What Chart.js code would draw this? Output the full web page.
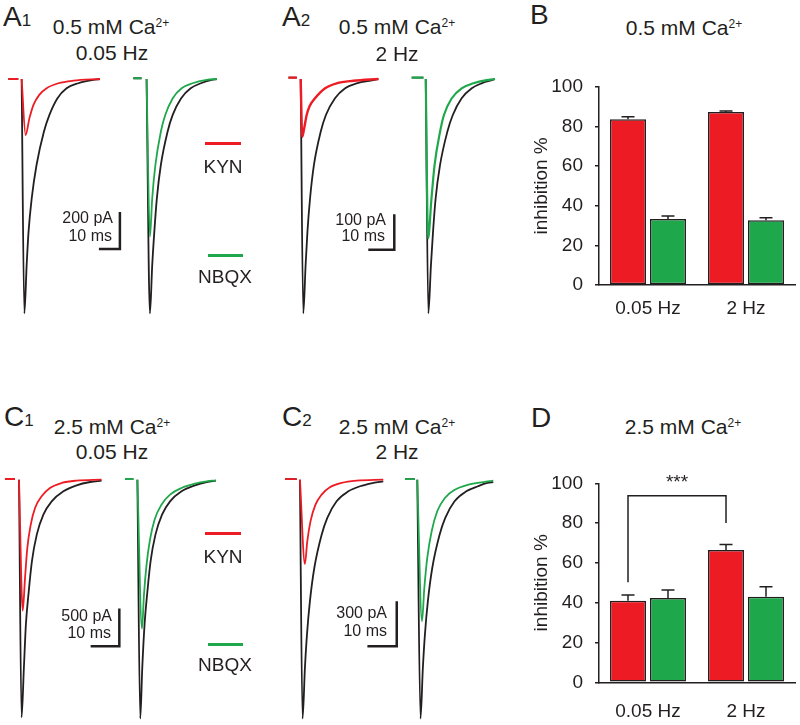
<!DOCTYPE html>
<html lang="en">
<head>
<meta charset="UTF-8">
<title>KYN / NBQX inhibition</title>
<script src="https://cdn.jsdelivr.net/npm/chart.js@4.4.1/dist/chart.umd.min.js"></script>
<style>
    *{ margin:0; padding:0; }
    body{
        width:800px; height:725px; position:relative; overflow:hidden;
        background:#fff; color:#231f20;
        font-family:"Liberation Sans", Arial, sans-serif;
    }
    canvas{ position:absolute; }
    .t{ position:absolute; transform:translate(-50%,-50%); white-space:nowrap; line-height:1.15; }
    .r{ transform:translate(-100%,-50%); }
    .l{ transform:translate(0,-50%); }
    .ttl{ font-size:21px; }
    .sb{ font-size:16px; }
    .lg{ font-size:19px; }
    .pl{ font-size:28px; }
    .pl small{ font-size:17px; }
    sup{ font-size:12px; position:relative; top:-0.55em; vertical-align:baseline; line-height:0; }
    .key{ position:absolute; height:3px; }
</style>
</head>
<body>
<canvas id="a1" width="240" height="255" style="left:0;top:65px"></canvas>
<canvas id="a2" width="240" height="255" style="left:270px;top:65px"></canvas>
<canvas id="c1" width="240" height="257" style="left:0;top:468px"></canvas>
<canvas id="c2" width="240" height="257" style="left:270px;top:468px"></canvas>
<canvas id="b" width="270" height="270" style="left:530px;top:60px"></canvas>
<canvas id="d" width="270" height="270" style="left:530px;top:455px"></canvas>

<div class="t l pl" style="left:3px;top:16.5px">A<small>1</small></div>
<div class="t l pl" style="left:282px;top:16.5px">A<small>2</small></div>
<div class="t l pl" style="left:530px;top:15px">B</div>
<div class="t l pl" style="left:4px;top:417px">C<small>1</small></div>
<div class="t l pl" style="left:282px;top:417px">C<small>2</small></div>
<div class="t l pl" style="left:531px;top:418px">D</div>

<div class="t ttl" style="left:111px;top:27px">0.5 mM Ca<sup>2+</sup></div>
<div class="t ttl" style="left:112px;top:53px">0.05 Hz</div>
<div class="t ttl" style="left:397px;top:27px">0.5 mM Ca<sup>2+</sup></div>
<div class="t ttl" style="left:397px;top:54px">2 Hz</div>
<div class="t ttl" style="left:684px;top:28px">0.5 mM Ca<sup>2+</sup></div>
<div class="t ttl" style="left:112px;top:427px">2.5 mM Ca<sup>2+</sup></div>
<div class="t ttl" style="left:112px;top:452px">0.05 Hz</div>
<div class="t ttl" style="left:397px;top:427px">2.5 mM Ca<sup>2+</sup></div>
<div class="t ttl" style="left:397px;top:452px">2 Hz</div>
<div class="t ttl" style="left:683px;top:427px">2.5 mM Ca<sup>2+</sup></div>

<div class="t r sb" style="left:113px;top:218px">200 pA</div>
<div class="t r sb" style="left:112px;top:236px">10 ms</div>
<div class="t r sb" style="left:386px;top:220px">100 pA</div>
<div class="t r sb" style="left:385px;top:236px">10 ms</div>
<div class="t r sb" style="left:112px;top:616px">500 pA</div>
<div class="t r sb" style="left:111px;top:633px">10 ms</div>
<div class="t r sb" style="left:387px;top:613px">300 pA</div>
<div class="t r sb" style="left:387px;top:631px">10 ms</div>

<div class="key" style="left:205px;top:141.5px;width:36px;background:#ed1c24"></div>
<div class="t lg" style="left:223px;top:167px">KYN</div>
<div class="key" style="left:208px;top:253.5px;width:35px;background:#1fa84b"></div>
<div class="t lg" style="left:225px;top:277px">NBQX</div>
<div class="key" style="left:205px;top:531.5px;width:36px;background:#ed1c24"></div>
<div class="t lg" style="left:223px;top:557px">KYN</div>
<div class="key" style="left:208px;top:642.5px;width:35px;background:#1fa84b"></div>
<div class="t lg" style="left:225px;top:665px">NBQX</div>

<script>
const FONT = '"Liberation Sans", Arial, sans-serif';
const RED = '#ed1c24', GREEN = '#1fa84b', BLACK = '#231f20';

// traces, [time ms, current pA]; null = blanked stimulus artifact
const a1KynCtl  = [[-6.3,0],[-1.6,0],[-1,null],[0,0],[1.3,-1267],[2.4,-1005],[3.3,-825],[4.8,-645],[7.1,-465],[10.6,-285],[13.2,-195],[17.0,-105],[21.4,-50],[27.0,-23],[34.1,-5],[37.3,0]];
const a1Kyn     = [[-6.3,0],[-1.6,0],[-1,null],[0,0],[1.9,-303],[3.7,-213],[5.6,-141],[8.4,-86],[11.9,-50],[17.5,-23],[24.6,-9],[37.3,0]];
const a1NbqxCtl = [[53.2,4],[57.1,4],[58,null],[59.5,0],[61.1,-1267],[62.2,-1005],[63.2,-825],[64.4,-645],[66.3,-465],[69.5,-285],[71.9,-195],[75.9,-105],[80.5,-50],[85.4,-23],[90.5,-5],[92.9,0]];
const a1Nbqx    = [[53.2,4],[57.1,4],[58,null],[59.5,0],[61.1,-852],[62.2,-645],[63.7,-465],[66.3,-285],[68.4,-195],[71.9,-105],[76.2,-50],[81.4,-23],[88.1,-5],[92.9,0]];

const a2KynCtl  = [[-4.7,4],[-1.5,4],[-1,null],[0,0],[1.0,-657],[1.9,-521],[2.6,-428],[3.6,-335],[5.1,-241],[7.7,-148],[9.7,-101],[13.2,-54],[17.1,-26],[21.5,-12],[27.9,-3],[29.9,0]];
const a2Kyn     = [[-4.7,4],[-1.5,4],[-1,null],[0,0],[0.6,-162],[1.3,-140],[2.3,-101],[3.5,-75],[5.5,-54],[9.4,-26],[13.8,-12],[20.3,-5],[29.9,0]];
const a2NbqxCtl = [[42.7,4],[47.2,4],[47.6,null],[48.1,0],[49.1,-657],[50.1,-521],[50.9,-428],[51.9,-335],[53.6,-241],[56.4,-148],[58.5,-101],[61.9,-54],[65.8,-26],[69.6,-12],[73.5,-3],[74.7,0]];
const a2Nbqx    = [[42.7,4],[47.2,4],[47.6,null],[48.1,0],[49.0,-447],[50.3,-335],[51.5,-241],[53.6,-148],[55.1,-101],[58.1,-54],[61.9,-26],[66.4,-12],[71.5,-3],[74.7,0]];

const c1KynCtl  = [[-4.9,9],[-1.4,9],[-1,null],[0,0],[0.9,-3155],[1.7,-2500],[2.4,-1925],[3.4,-1482],[4.5,-1084],[6.2,-730],[8.5,-465],[11.4,-288],[15.5,-155],[20.1,-75],[24.8,-31],[28.8,-13]];
const c1Kyn     = [[-4.9,9],[-1.4,9],[-1,null],[0,0],[1.3,-1739],[2.1,-1305],[2.9,-907],[4.1,-597],[5.6,-376],[7.9,-221],[10.8,-111],[14.9,-44],[20.1,-13],[28.8,0]];
const c1NbqxCtl = [[37.0,9],[39.9,9],[40.5,null],[41.3,0],[42.3,-3173],[43.0,-2500],[43.8,-1925],[44.8,-1482],[45.9,-1084],[47.6,-730],[49.9,-465],[52.7,-288],[56.7,-155],[61.4,-75],[65.5,-31],[68.7,-13]];
const c1Nbqx    = [[37.0,9],[39.9,9],[40.5,null],[41.3,0],[42.9,-1978],[43.6,-1527],[44.5,-1128],[45.7,-796],[47.3,-531],[49.7,-332],[52.7,-199],[56.7,-111],[61.4,-53],[65.5,-22],[68.7,-9]];

const c2KynCtl  = [[-5.1,4],[-1.1,4],[-0.6,null],[0,0],[0.9,-1593],[1.7,-1256],[2.4,-1033],[3.4,-811],[4.9,-589],[7.4,-367],[9.3,-256],[12.5,-144],[16.5,-78],[20.5,-44],[25.0,-22],[28.4,-11]];
const c2Kyn     = [[-5.1,4],[-1.1,4],[-0.6,null],[0,0],[1.7,-562],[2.5,-411],[3.6,-278],[5.3,-167],[7.4,-100],[10.2,-51],[14.2,-22],[19.3,-7],[28.4,0]];
const c2NbqxCtl = [[35.8,4],[39.2,4],[39.6,null],[40.0,0],[41.1,-1593],[41.9,-1256],[42.6,-1033],[43.6,-811],[45.1,-589],[47.6,-367],[49.5,-256],[52.7,-144],[56.7,-78],[60.7,-44],[63.9,-22],[65.9,-16]];
const c2Nbqx    = [[35.8,4],[39.2,4],[39.6,null],[40.0,0],[41.6,-944],[42.4,-722],[43.4,-522],[44.9,-344],[46.8,-211],[49.4,-122],[52.8,-67],[57.4,-33],[62.5,-16],[65.9,-7]];

// scale bars
const scaleMs = 10;
const scalePa = { a1: 200, a2: 100, c1: 500, c2: 300 };

// bar graphs, inhibition % (mean, sem)
const freqLabels = ['0.05 Hz', '2 Hz'];
const bKyn = [83.6, 87.3],  bKynErr = [1.3, 0.5];
const bNbqx = [33.3, 32.6], bNbqxErr = [1.5, 1.3];
const dKyn = [41.0, 66.5],  dKynErr = [2.9, 2.8];
const dNbqx = [42.4, 43.0], dNbqxErr = [4.0, 5.0];

function xy(arr){ return arr.map(p => ({x: p[0], y: p[1]})); }

function traceChart(id, xr, yr, traces, bar){
    const datasets = traces.map(tr => ({
        data: xy(tr[0]), borderColor: tr[1], borderWidth: tr[2] || 1.8,
        showLine: true, pointRadius: 0, cubicInterpolationMode: 'monotone', spanGaps: false
    }));
    datasets.push({
        data: [{x: bar.t - scaleMs, y: bar.i}, {x: bar.t, y: bar.i}, {x: bar.t, y: bar.i + scalePa[id]}],
        borderColor: BLACK, borderWidth: 2.5, showLine: true, pointRadius: 0, tension: 0,
        borderJoinStyle: 'miter'
    });
    new Chart(document.getElementById(id), {
        type: 'scatter',
        data: { datasets },
        options: {
            responsive: false, animation: false, clip: false,
            layout: { padding: 0 },
            scales: {
                x: { type: 'linear', display: false, min: xr[0], max: xr[1] },
                y: { display: false, min: yr[0], max: yr[1] }
            },
            plugins: { legend: { display: false }, tooltip: { enabled: false } }
        }
    });
}

// first dataset is drawn on top
traceChart('a1', [-10.3, 104], [-1303, 75.7],
    [[a1Kyn, RED], [a1KynCtl, BLACK], [a1Nbqx, GREEN], [a1NbqxCtl, BLACK]], {t: 46.8, i: -919});
traceChart('a2', [-11.8, 80.5], [-675.7, 39.3],
    [[a2Kyn, RED, 2.4], [a2KynCtl, BLACK], [a2Nbqx, GREEN, 2.2], [a2NbqxCtl, BLACK]], {t: 36.0, i: -479});
traceChart('c1', [-6.63, 77.1], [-3257, 154.9],
    [[c1Kyn, RED], [c1KynCtl, BLACK], [c1Nbqx, GREEN], [c1NbqxCtl, BLACK]], {t: 35.0, i: -2212});
traceChart('c2', [-10.2, 71.6], [-1636, 77.8],
    [[c2Kyn, RED], [c2KynCtl, BLACK], [c2Nbqx, GREEN], [c2NbqxCtl, BLACK]], {t: 33.0, i: -1111});

const errorBars = {
    id: 'errorBars',
    afterDatasetsDraw(chart){
        const ctx = chart.ctx, y = chart.scales.y;
        chart.data.datasets.forEach((ds, di) => {
            chart.getDatasetMeta(di).data.forEach((bar, i) => {
                const top = y.getPixelForValue(ds.data[i] + ds.errors[i]);
                ctx.save();
                ctx.strokeStyle = BLACK; ctx.lineWidth = 1.5;
                ctx.beginPath();
                ctx.moveTo(bar.x, bar.y); ctx.lineTo(bar.x, top);
                ctx.moveTo(bar.x - 6.5, top); ctx.lineTo(bar.x + 6.5, top);
                ctx.stroke();
                ctx.restore();
            });
        });
    }
};

const bracket = {
    id: 'bracket',
    afterDatasetsDraw(chart, args, o){
        const y = chart.scales.y, m = chart.getDatasetMeta(o.dataset);
        const x1 = m.data[o.from].x, x2 = m.data[o.to].x, yt = y.getPixelForValue(o.top);
        const ctx = chart.ctx;
        ctx.save();
        ctx.strokeStyle = BLACK; ctx.lineWidth = 1.5;
        ctx.beginPath();
        ctx.moveTo(x1, y.getPixelForValue(o.ends[0])); ctx.lineTo(x1, yt);
        ctx.lineTo(x2, yt); ctx.lineTo(x2, y.getPixelForValue(o.ends[1]));
        ctx.stroke();
        ctx.fillStyle = BLACK; ctx.font = '19px ' + FONT;
        ctx.textAlign = 'center'; ctx.textBaseline = 'middle';
        ctx.fillText(o.text, (x1 + x2) / 2, y.getPixelForValue(o.textAt));
        ctx.restore();
    }
};

function barChart(id, kyn, kynErr, nbqx, nbqxErr, topPad, axisH, labelPad, sig){
    new Chart(document.getElementById(id), {
        type: 'bar',
        data: {
            labels: freqLabels,
            datasets: [
                { label: 'KYN', data: kyn, errors: kynErr, backgroundColor: RED },
                { label: 'NBQX', data: nbqx, errors: nbqxErr, backgroundColor: GREEN }
            ]
        },
        options: {
            responsive: false, animation: false,
            layout: { padding: { top: topPad, right: 5, left: 0, bottom: 0 } },
            datasets: { bar: { borderColor: BLACK, borderWidth: 1.5, borderSkipped: false,
                               categoryPercentage: 0.816, barPercentage: 0.9 } },
            scales: {
                x: {
                    grid: { display: false },
                    border: { display: true, color: BLACK, width: 1.5 },
                    ticks: { color: BLACK, font: { family: FONT, size: 19 }, padding: labelPad },
                    afterFit(s){ s.height = axisH; }
                },
                y: {
                    min: 0, max: 100,
                    ticks: { stepSize: 20, color: BLACK, font: { family: FONT, size: 19 }, padding: 12 },
                    grid: { drawOnChartArea: false, drawTicks: true, tickLength: 4, color: BLACK, lineWidth: 1.5 },
                    border: { color: BLACK, width: 1.5 },
                    title: { display: true, text: 'inhibition %', color: BLACK,
                             font: { family: FONT, size: 19 }, padding: { top: 0, bottom: 0 } },
                    afterFit(s){ s.width = 69; }
                }
            },
            plugins: { legend: { display: false }, tooltip: { enabled: false }, bracket: sig || false }
        },
        plugins: [errorBars, bracket]
    });
}

barChart('b', bKyn, bKynErr, bNbqx, bNbqxErr, 26.7, 45, 4);
barChart('d', dKyn, dKynErr, dNbqx, dNbqxErr, 28.3, 42.7, 10,
    { dataset: 0, from: 0, to: 1, ends: [50.3, 80], top: 93.8, text: '***', textAt: 100.5 });
</script>
</body>
</html>
